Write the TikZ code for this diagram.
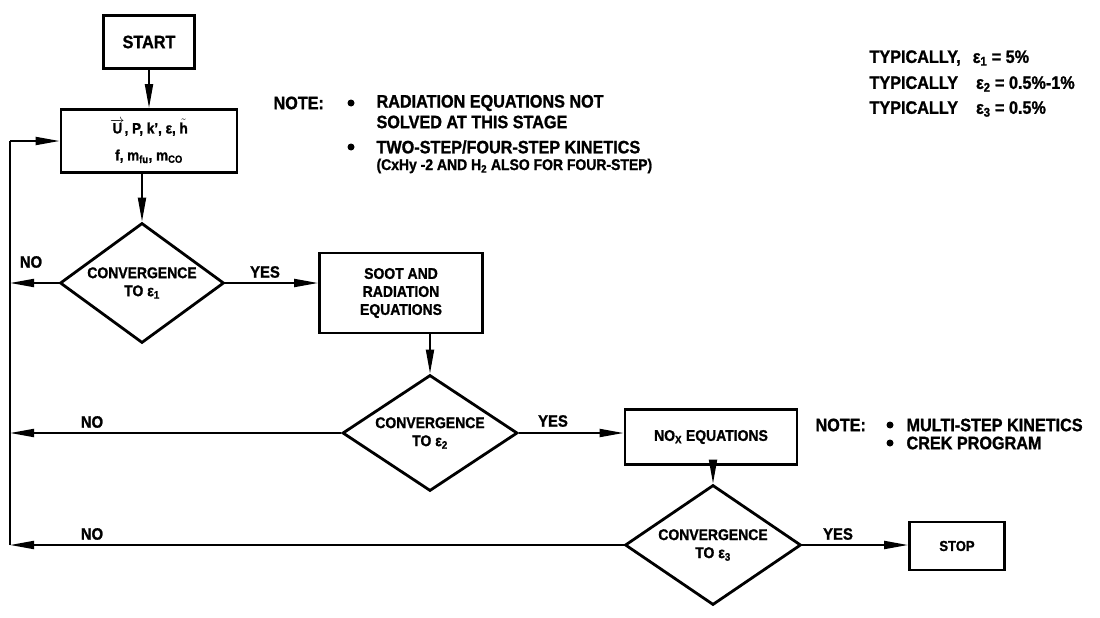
\documentclass[tikz,border=0pt]{standalone}
\usepackage{fontspec}
\setmainfont{Liberation Sans}[FakeStretch=0.9, BoldFeatures={FakeBold=1.2}]
\usetikzlibrary{shapes.geometric,arrows.meta}
\begin{document}
\begin{tikzpicture}[x=1pt,y=-1pt,
  font=\bfseries\fontsize{15.5}{18}\selectfont,
  box/.style={draw, line width=2.8pt, align=center, inner sep=0pt},
  dec/.style={draw, diamond, line width=2.8pt, align=center, inner sep=0pt, aspect=1.4},
  conn/.style={line width=1.9pt, -{Triangle[length=24pt,width=8pt]}},
  plain/.style={line width=1.9pt},
  lbl/.style={font=\bfseries\fontsize{16.5}{18}\selectfont},
  note/.style={anchor=west, font=\bfseries\fontsize{18}{20}\selectfont},
  dot/.style={circle, fill, inner sep=0pt, minimum size=7pt}]
\useasboundingbox (0,0) rectangle (1100,618);

% boxes
\node[box, minimum width=91, minimum height=53, font=\bfseries\fontsize{18}{20}\selectfont] (start) at (149,42) {START};
\node[box, minimum width=176, minimum height=63, font=\bfseries\fontsize{15}{27}\selectfont] (vars) at (149,141)
  {$\overrightarrow{\textbf{U}}$, P, k', ε, $\tilde{\textbf{h}}$\\
   f, m\textsubscript{fu}, m\textsubscript{CO}};
\node[dec, minimum width=164, minimum height=120] (d1) at (142,283) {CONVERGENCE\\TO ε\textsubscript{1}};
\node[box, minimum width=163, minimum height=80] (soot) at (401,293) {SOOT AND\\RADIATION\\EQUATIONS};
\node[dec, minimum width=175, minimum height=116] (d2) at (430,433) {CONVERGENCE\\TO ε\textsubscript{2}};
\node[box, minimum width=172, minimum height=55] (nox) at (711,437) {NO\textsubscript{X} EQUATIONS};
\node[dec, minimum width=176, minimum height=120] (d3) at (713,545) {CONVERGENCE\\TO ε\textsubscript{3}};
\node[box, minimum width=95, minimum height=48, font=\bfseries\fontsize{14.5}{16}\selectfont] (stop) at (957,546) {STOP};

% left feedback line
\coordinate (L1) at (10,283);
\coordinate (L2) at (10,433);
\coordinate (L3) at (10,545);
\coordinate (Ltop) at (10,141);

\draw[conn] (start) -- (vars);
\draw[conn] (d1.north |- vars.south) -- (d1.north);
\draw[conn] (d1.east) -- (d1.east -| soot.west);
\draw[conn] (d2.north |- soot.south) -- (d2.north);
\draw[conn] (d2.east) -- (d2.east -| nox.west);
\draw[conn] (d3.north |- nox.south) -- (d3.north);
\draw[conn] (d3.east) -- (d3.east -| stop.west);

\draw[conn] (d1.west) -- (L1);
\draw[conn] (d2.west) -- (L2);
\draw[conn] (d3.west) -- (L3);
\draw[plain] (L3) -- (Ltop);
\draw[conn] (Ltop) -- (vars.west);

% labels
\node[lbl] (no1) at (31,262) {NO};
\node[lbl] (yes1) at (265,272) {YES};
\node[lbl] (no2) at (92,422) {NO};
\node[lbl] (yes2) at (553,421) {YES};
\node[lbl] (no3) at (92,534) {NO};
\node[lbl] (yes3) at (838,534) {YES};

% note 1
\node[note] (n1) at (270,103) {NOTE:};
\node[dot] (b1) at (351,103) {};
\node[note] (t1) at (373,103) {RADIATION EQUATIONS NOT};
\node[note] (t2) at (373,122) {SOLVED AT THIS STAGE};
\node[dot] (b2) at (351,147) {};
\node[note] (t3) at (373,147) {TWO-STEP/FOUR-STEP KINETICS};
\node[note, font=\bfseries\fontsize{15.5}{18}\selectfont] (t4) at (373,166) {(CxHy -2 AND H\textsubscript{2} ALSO FOR FOUR-STEP)};

% note 2
\node[note] (n2) at (812,425) {NOTE:};
\node[dot] (b3) at (890,425) {};
\node[note] (t5) at (903,425) {MULTI-STEP KINETICS};
\node[dot] (b4) at (890,443) {};
\node[note] (t6) at (903,443) {CREK PROGRAM};

% typical values
\node[note] (ty1) at (866,58) {TYPICALLY,\hspace{12pt}ε\textsubscript{1} = 5\%};
\node[note] (ty2) at (866,84) {TYPICALLY\hspace{18pt}ε\textsubscript{2} = 0.5\%-1\%};
\node[note] (ty3) at (866,109) {TYPICALLY\hspace{18pt}ε\textsubscript{3} = 0.5\%};
\end{tikzpicture}
\end{document}
